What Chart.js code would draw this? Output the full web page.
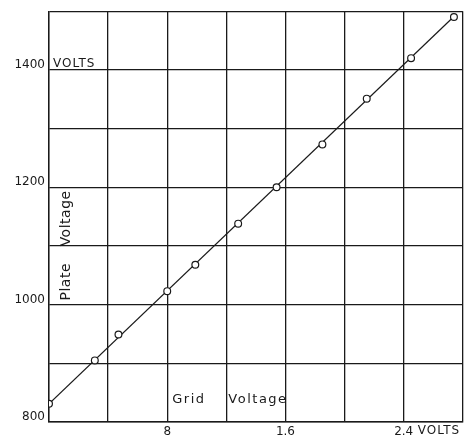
<!DOCTYPE html>
<html>
<head>
<meta charset="utf-8">
<script src="https://cdn.jsdelivr.net/npm/chart.js@4/dist/chart.umd.min.js"></script>
<style>
  html, body { margin: 0; padding: 0; background: #fff; }
  #wrap { width: 468px; height: 436px; position: relative; }
</style>
</head>
<body>
<div id="wrap"><canvas id="plateChart"></canvas></div>
<script>
// measured points (grid volts vs plate volts)
const gridVolts = [0, 0.31, 0.47, 0.8, 0.99, 1.28, 1.54, 1.85, 2.15, 2.45, 2.74];
const plateVolts = [831, 905, 949, 1023, 1068, 1138, 1200, 1273, 1351, 1420, 1490];

// drawn straight line through the points
const fitX = [0, 2.74];
const fitY = [831, 1491];

const xTickValues = [0.8, 1.6, 2.4];
const xTickLabels = ['8', '1.6', '2.4'];
const yTickValues = [800, 1000, 1200, 1400];
const yTickLabels = ['800', '1000', '1200', '1400'];

const ink = '#1a1a1a';
const font = { family: 'DejaVu Sans', size: 12 };

function findLabel(value, values, labels) {
    const i = values.findIndex(v => Math.abs(v - value) < 1e-6);
    return i >= 0 ? labels[i] : '';
}

function vertical(ctx, text, x, y) {
    ctx.save();
    ctx.translate(x, y);
    ctx.rotate(-Math.PI / 2);
    ctx.textAlign = 'center';
    ctx.fillText(text, 0, 0);
    ctx.restore();
}

const notes = {
    id: 'notes',
    afterDraw(chart) {
        const { ctx, chartArea, scales } = chart;
        ctx.save();
        ctx.fillStyle = ink;
        ctx.textBaseline = 'middle';
        ctx.textAlign = 'left';
        ctx.font = '12px "DejaVu Sans"';
        ctx.letterSpacing = '1px';
        ctx.fillText('VOLTS', chartArea.left + 4, scales.y.getPixelForValue(1400) - 6);
        ctx.fillText('VOLTS', scales.x.getPixelForValue(2.4) + 14, chartArea.bottom + 9);

        ctx.font = '13px "DejaVu Sans"';
        ctx.letterSpacing = '1.5px';
        ctx.fillText('Grid', scales.x.getPixelForValue(0.8) + 5, chartArea.bottom - 22);
        ctx.fillText('Voltage', scales.x.getPixelForValue(1.2) + 2, chartArea.bottom - 22);

        ctx.font = '14px "DejaVu Sans"';
        ctx.letterSpacing = '0.5px';
        const vx = chartArea.left + 17;
        vertical(ctx, 'Voltage', vx, scales.y.getPixelForValue(1147));
        vertical(ctx, 'Plate', vx, scales.y.getPixelForValue(1039));
        ctx.restore();
    }
};

const ctx = document.getElementById('plateChart').getContext('2d');
const chart = new Chart(ctx, {
    type: 'scatter',
    data: {
        datasets: [{
            data: fitX.map((x, i) => ({ x, y: fitY[i] })),
            showLine: true,
            borderColor: ink,
            borderWidth: 1.2,
            pointRadius: 0,
            order: 2
        }, {
            data: gridVolts.map((x, i) => ({ x, y: plateVolts[i] })),
            pointRadius: 3.4,
            pointBorderWidth: 1.2,
            pointBorderColor: ink,
            pointBackgroundColor: '#fff',
            order: 1
        }]
    },
    options: {
        responsive: true,
        maintainAspectRatio: false,
        animation: false,
        layout: { padding: { top: 8, right: 2, left: 0, bottom: 0 } },
        plugins: { legend: { display: false }, tooltip: { enabled: false } },
        scales: {
            x: {
                type: 'linear',
                min: 0,
                max: 2.8,
                border: { color: ink, width: 1.4 },
                grid: { color: ink, lineWidth: 1.3, drawTicks: false },
                afterFit(scale) { scale.height = 14; },
                ticks: {
                    stepSize: 0.4,
                    padding: 3,
                    color: ink,
                    font,
                    maxRotation: 0,
                    autoSkip: false,
                    callback: v => findLabel(v, xTickValues, xTickLabels)
                }
            },
            y: {
                type: 'linear',
                min: 800,
                max: 1500,
                border: { color: ink, width: 1.4 },
                grid: { color: ink, lineWidth: 1.3, drawTicks: false },
                afterFit(scale) { scale.width = 49; },
                ticks: {
                    stepSize: 100,
                    padding: 4,
                    labelOffset: -5,
                    color: ink,
                    font,
                    autoSkip: false,
                    callback: v => findLabel(v, yTickValues, yTickLabels)
                }
            }
        }
    },
    plugins: [notes]
});
</script>
</body>
</html>
